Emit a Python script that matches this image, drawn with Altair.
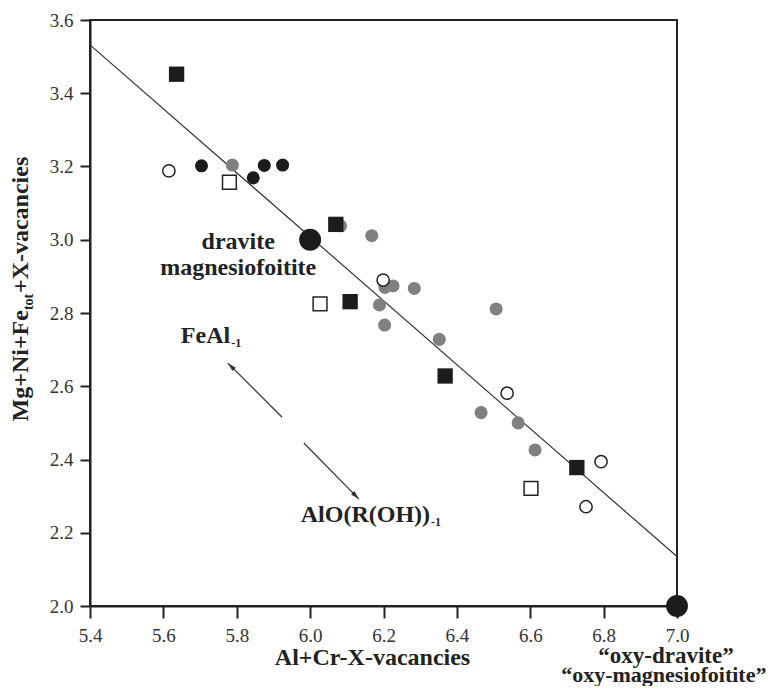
import altair as alt
import pandas as pd

# ---------------- data ----------------
x_ticks = [5.4, 5.6, 5.8, 6.0, 6.2, 6.4, 6.6, 6.8, 7.0]
y_ticks = [2.0, 2.2, 2.4, 2.6, 2.8, 3.0, 3.2, 3.4, 3.6]

gray_x = [5.788, 6.083, 6.168, 6.204, 6.226, 6.284, 6.189, 6.203, 6.507, 6.352, 6.466, 6.567, 6.613]
gray_y = [3.204, 3.038, 3.011, 2.870, 2.874, 2.867, 2.822, 2.767, 2.811, 2.728, 2.528, 2.500, 2.426]

bsq_x = [5.636, 6.070, 6.109, 6.368, 6.727]
bsq_y = [3.452, 3.042, 2.831, 2.628, 2.378]

osq_x = [5.780, 6.027, 6.602]
osq_y = [3.157, 2.825, 2.321]

bci_x = [5.704, 5.845, 5.875, 5.925]
bci_y = [3.202, 3.169, 3.203, 3.204]

oci_x = [5.615, 6.199, 6.537, 6.793, 6.752]
oci_y = [3.188, 2.890, 2.581, 2.394, 2.271]

end_x = [6.0, 7.0]
end_y = [3.0, 2.0]

fit_x = [5.4, 7.0]
fit_y = [3.532, 2.135]

arrow_group = ["FeAl", "FeAl", "AlO", "AlO"]
arrow_x = [5.923, 5.776, 5.983, 6.133]
arrow_y = [2.516, 2.663, 2.445, 2.292]
head_x = [5.776, 6.133]
head_y = [2.663, 2.292]
head_angle = [315, 135]

center_text = ["dravite", "magnesiofoitite"]
center_x = [5.804, 5.804]
center_y = [2.995, 2.922]

end_text = ["\u201coxy-dravite\u201d", "\u201coxy-magnesiofoitite\u201d"]
end_tx = [6.970, 6.964]
end_ty = [1.844, 1.792]
end_size = [23, 22]

vec_text = ["FeAl", "AlO(R(OH))"]
vec_x = [5.782, 6.327]
vec_y = [2.718, 2.229]
vec_sub = ["-1", "-1"]

ytitle_parts = ["Mg+Ni+Fe", "tot", "+X-vacancies"]
ytitle_x = 5.231
ytitle_y = 2.808

FONT = "Liberation Serif"
INK = "#222222"

xs = alt.Scale(domain=[5.4, 7.0], nice=False, zero=False)
ys = alt.Scale(domain=[2.0, 3.6], nice=False, zero=False)

x_axis = alt.Axis(values=x_ticks, format=".1f", grid=False,
                  title="Al+Cr-X-vacancies", titleFont=FONT, titleFontSize=24,
                  titleFontWeight="bold", titleColor=INK, titleX=282, titleY=58,
                  titleBaseline="alphabetic",
                  labelFont=FONT, labelFontSize=19, labelColor="#333333",
                  labelPadding=8, tickSize=12, tickWidth=2, tickColor=INK,
                  domainColor=INK, domainWidth=2, labelFlush=False, labelOverlap=False)
y_axis = alt.Axis(values=y_ticks, format=".1f", grid=False, title=None,
                  labelFont=FONT, labelFontSize=19, labelColor="#333333",
                  labelPadding=7, tickSize=10, tickWidth=2, tickColor=INK,
                  domainColor=INK, domainWidth=2, labelFlush=False, labelOverlap=False)


def X():
    return alt.X("x:Q", scale=xs, axis=x_axis)


def Y():
    return alt.Y("y:Q", scale=ys, axis=y_axis)


def df(xv, yv, **extra):
    d = {"x": xv, "y": yv}
    d.update(extra)
    return pd.DataFrame(d)


fit = alt.Chart(df(fit_x, fit_y)).mark_line(color="#333333", strokeWidth=1.2).encode(x=X(), y=Y())

arrows = alt.Chart(df(arrow_x, arrow_y, g=arrow_group)).mark_line(
    color="#333333", strokeWidth=1.2).encode(x=X(), y=Y(), detail="g:N")
heads = alt.Chart(df(head_x, head_y, a=head_angle)).mark_point(
    shape="M0,0L0.45,1.6L-0.45,1.6Z", filled=True, fill="#333333", strokeWidth=0,
    opacity=1, size=120).encode(x=X(), y=Y(), angle=alt.Angle("a:Q", scale=None))

gray = alt.Chart(df(gray_x, gray_y)).mark_point(
    shape="circle", filled=True, fill="#808080", strokeWidth=0, opacity=1, size=170
).encode(x=X(), y=Y())
osq = alt.Chart(df(osq_x, osq_y)).mark_point(
    shape="square", filled=True, fill="white", stroke=INK, strokeWidth=1.5, opacity=1, size=190
).encode(x=X(), y=Y())
bsq = alt.Chart(df(bsq_x, bsq_y)).mark_point(
    shape="square", filled=True, fill="#1c1c1c", strokeWidth=0, opacity=1, size=235
).encode(x=X(), y=Y())
bci = alt.Chart(df(bci_x, bci_y)).mark_point(
    shape="circle", filled=True, fill="#1c1c1c", strokeWidth=0, opacity=1, size=170
).encode(x=X(), y=Y())
oci = alt.Chart(df(oci_x, oci_y)).mark_point(
    shape="circle", filled=True, fill="white", stroke=INK, strokeWidth=1.5, opacity=1, size=150
).encode(x=X(), y=Y())
ends = alt.Chart(df(end_x, end_y)).mark_point(
    shape="circle", filled=True, fill="#1c1c1c", strokeWidth=0, opacity=1, size=480
).encode(x=X(), y=Y())

bold = dict(font=FONT, fontWeight="bold", fontSize=24, color=INK)

centers = alt.Chart(df(center_x, center_y, t=center_text)).mark_text(
    align="center", baseline="middle", **bold).encode(x=X(), y=Y(), text="t:N")
end_labels = alt.Chart(df(end_tx, end_ty, t=end_text, s=end_size)).mark_text(
    align="center", baseline="alphabetic", font=FONT, fontWeight="bold", color=INK
).encode(x=X(), y=Y(), text="t:N", size=alt.Size("s:Q", scale=None, legend=None))
vec_main = alt.Chart(df(vec_x, vec_y, t=vec_text)).mark_text(
    align="right", baseline="alphabetic", **bold).encode(x=X(), y=Y(), text="t:N")
vec_subs = alt.Chart(df(vec_x, vec_y, t=vec_sub)).mark_text(
    align="left", baseline="alphabetic", font=FONT, fontWeight="bold", fontSize=12,
    color=INK, dx=1, dy=4).encode(x=X(), y=Y(), text="t:N")

yt1 = alt.Chart(df([ytitle_x], [ytitle_y], t=[ytitle_parts[0]])).mark_text(
    align="right", baseline="alphabetic", angle=270, **bold).encode(x=X(), y=Y(), text="t:N")
yt2 = alt.Chart(df([ytitle_x], [ytitle_y], t=[ytitle_parts[1]])).mark_text(
    align="left", baseline="alphabetic", angle=270, font=FONT, fontWeight="bold",
    fontSize=14, color=INK, dy=5).encode(x=X(), y=Y(), text="t:N")
yt3 = alt.Chart(df([ytitle_x], [ytitle_y], t=[ytitle_parts[2]])).mark_text(
    align="left", baseline="alphabetic", angle=270, dx=17, **bold).encode(x=X(), y=Y(), text="t:N")

chart = alt.layer(
    fit, arrows, heads, gray, osq, bsq, bci, oci, ends,
    centers, end_labels, vec_main, vec_subs, yt1, yt2, yt3
).properties(
    width=587, height=586,
    autosize=alt.AutoSizeParams(type="none"),
    padding={"left": 82, "top": 12, "right": 96, "bottom": 80},
    background="white",
).configure_view(stroke=INK, strokeWidth=2)

chart.save("out.html", embed_options={"renderer": "svg", "actions": False})
